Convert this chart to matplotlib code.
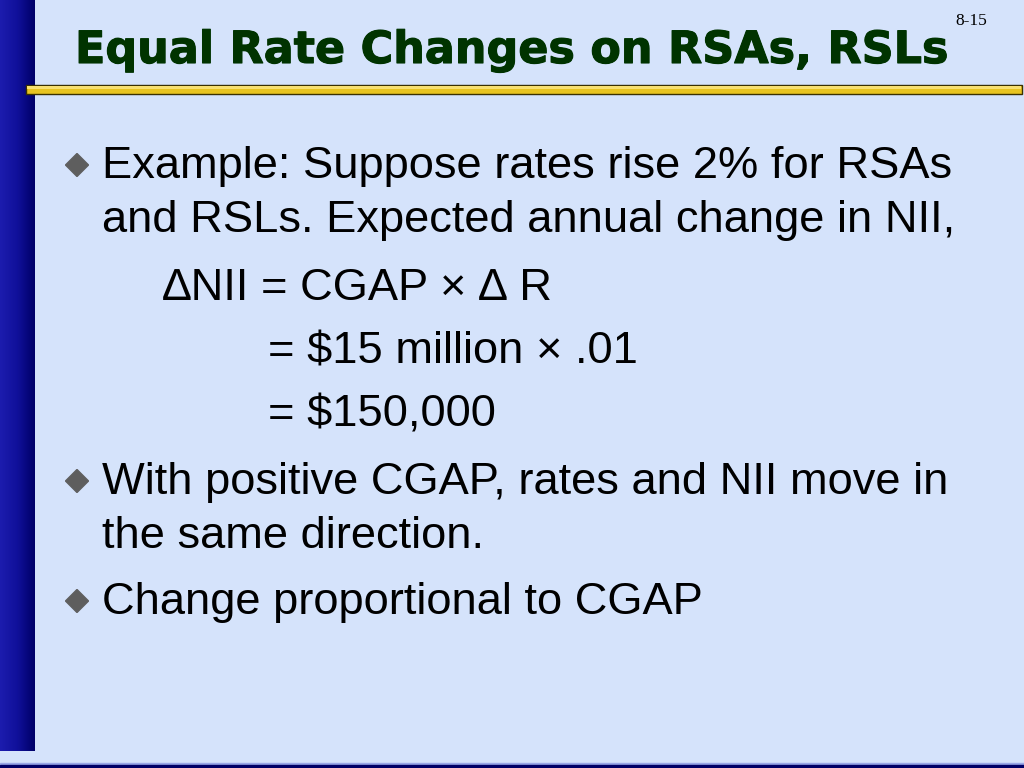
import numpy as np
import matplotlib.pyplot as plt
import matplotlib.patheffects as pe
from matplotlib.patches import Rectangle, RegularPolygon
from matplotlib.colors import LinearSegmentedColormap

# slide content
title = "Equal Rate Changes on RSAs, RSLs"
slide_no = "8-15"
bullet_lines = [
    "Example: Suppose rates rise 2% for RSAs",
    "With positive CGAP, rates and NII move in",
    "Change proportional to CGAP",
]
cont_lines = [
    "and RSLs. Expected annual change in NII,",
    "the same direction.",
]
formula_lines = [
    "\u2206NII = CGAP \u00d7 \u2206 R",
    "= $15 million \u00d7 .01",
    "= $150,000",
]

W, H = 1024, 768
fig = plt.figure(figsize=(W / 100, H / 100), dpi=100)
ax = fig.add_axes([0, 0, 1, 1])
ax.set_xlim(0, W)
ax.set_ylim(H, 0)
ax.axis('off')
fig.patch.set_facecolor('#d5e3fb')

# left gradient bar
grad = np.linspace(0, 1, 64).reshape(1, -1)
cmap = LinearSegmentedColormap.from_list('bar', ['#1c1cae', '#10109a', '#000068'])
ax.imshow(grad, cmap=cmap, extent=(0, 35, 751, 0), aspect='auto', zorder=1)

# bottom strip
ax.add_patch(Rectangle((0, 763), W, 2, color='#9aa8e8', zorder=1))
ax.add_patch(Rectangle((0, 765), W, 4, color='#000066', zorder=1))

# gold rule under title
ax.add_patch(Rectangle((26, 85), 996, 9, facecolor='#e8c420', edgecolor='#3a3000',
                       linewidth=1.0, zorder=2))
ax.add_patch(Rectangle((27, 86), 994, 3, facecolor='#f8e070', edgecolor='none', zorder=3))

# title and slide number
ax.text(75, 63, title, fontsize=32, fontweight='bold', family='DejaVu Sans',
        color='#003300', ha='left', va='baseline', zorder=4,
        path_effects=[pe.withStroke(linewidth=0.8, foreground='#003300')])
ax.text(987, 25, slide_no, fontsize=12.5, family='Liberation Serif',
        color='black', ha='right', va='baseline', zorder=4)

body = dict(fontsize=32.6, family='Liberation Sans', color='black',
            ha='left', va='baseline', zorder=4)


def bullet(y):
    ax.add_patch(RegularPolygon((77, y), 4, radius=11.5, orientation=0,
                                color='#5e5e5e', zorder=4))


bullet(165)
ax.text(102, 178, bullet_lines[0], **body)
ax.text(102, 232, cont_lines[0], **body)
ax.text(163, 300, formula_lines[0], **body)
ax.text(268, 364, formula_lines[1], **body)
ax.text(268, 427, formula_lines[2], **body)
bullet(481)
ax.text(102, 494, bullet_lines[1], **body)
ax.text(102, 548, cont_lines[1], **body)
bullet(601)
ax.text(102, 614, bullet_lines[2], **body)

fig.savefig('out.png', dpi=100)
